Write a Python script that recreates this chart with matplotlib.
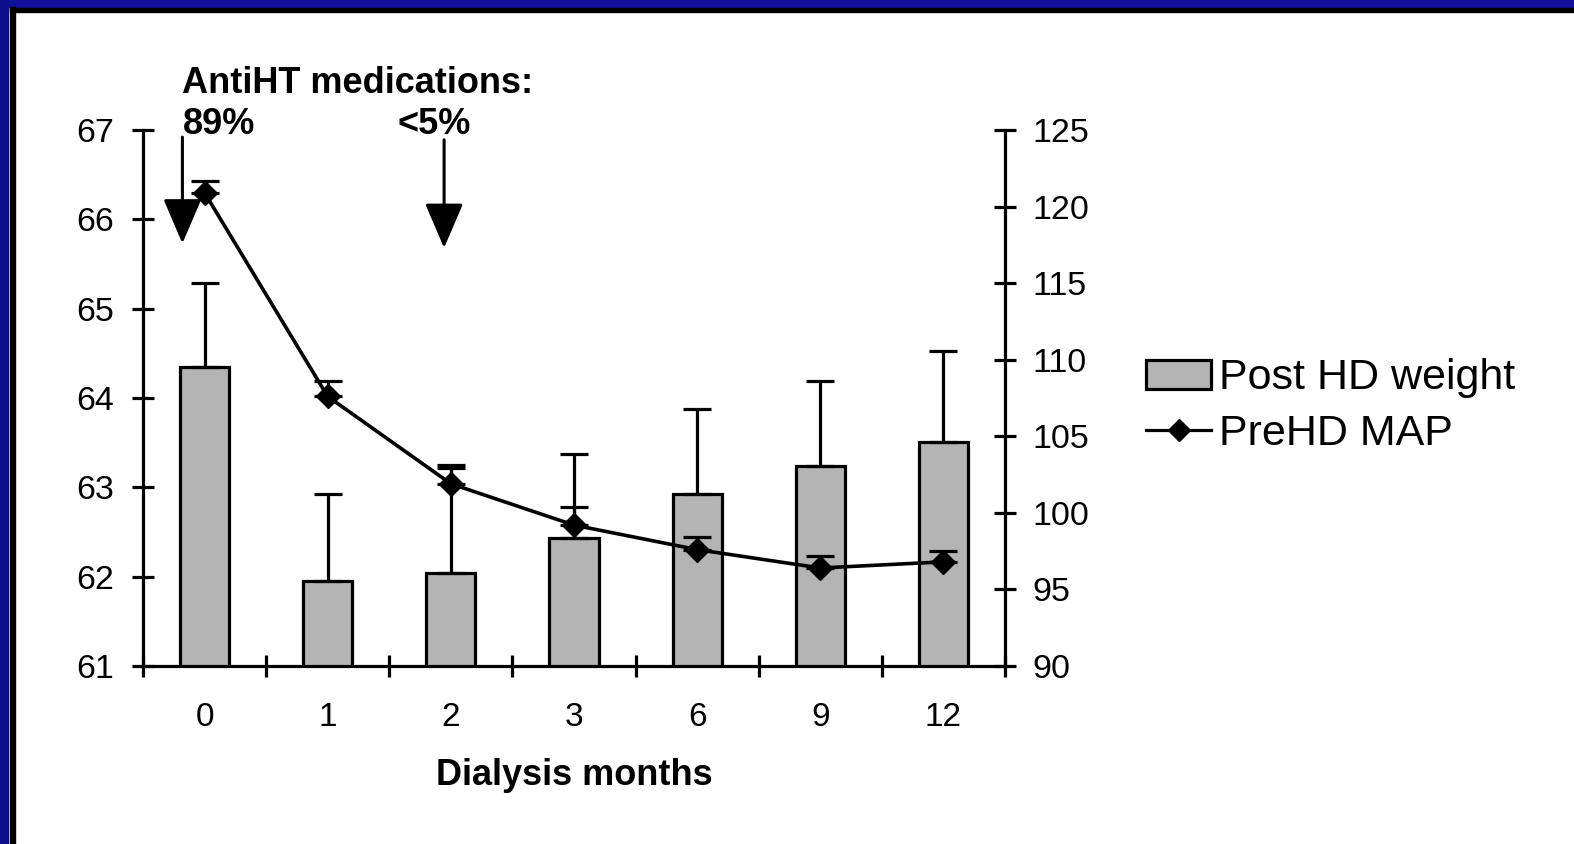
import numpy as np
import matplotlib
matplotlib.use('Agg')
import matplotlib.pyplot as plt
from matplotlib.patches import Rectangle, Patch
from matplotlib.lines import Line2D

plt.rcParams['font.family'] = ['Liberation Sans', 'DejaVu Sans']

# data
months = ['0', '1', '2', '3', '6', '9', '12']
weight = [64.35, 61.95, 62.04, 62.43, 62.93, 63.24, 63.51]
weight_err = [0.94, 0.97, 1.21, 0.94, 0.95, 0.95, 1.02]
map_vals = [120.9, 107.6, 101.9, 99.2, 97.6, 96.4, 96.8]
map_err = [0.8, 1.0, 1.0, 1.2, 0.8, 0.8, 0.7]

# arrow notes (x in category units, y on left axis)
arrow_x = [-0.18, 1.945]
arrow_top = [66.92, 66.89]
arrow_tip = [65.73, 65.68]

fig = plt.figure(figsize=(15.74, 8.44), dpi=100)
fig.patch.set_facecolor('white')

# slide border: blue band top and left, thin black line inside
W, H = 1574, 844
fig.patches.append(Rectangle((0, 1 - 7 / H), 1, 7 / H, transform=fig.transFigure,
                             color='#10109a', zorder=0))
fig.patches.append(Rectangle((0, 0), 8 / W, 1, transform=fig.transFigure,
                             color='#0c0c8c', zorder=0))
fig.patches.append(Rectangle((10 / W, 0), 5 / W, 1 - 7 / H, transform=fig.transFigure,
                             color='black', zorder=0))
fig.patches.append(Rectangle((10 / W, 1 - 12 / H), 1 - 10 / W, 4 / H, transform=fig.transFigure,
                             color='black', zorder=0))

ax = fig.add_axes([143 / W, 1 - 666 / H, 862 / W, 536 / H])
ax2 = ax.twinx()

x = np.arange(len(months))
lw = 2.3

ax.bar(x, weight, width=0.4, bottom=0, color='#b4b4b4', edgecolor='black',
       linewidth=lw, zorder=2)
ax.errorbar(x, weight, yerr=[np.zeros(len(x)), weight_err], fmt='none',
            ecolor='black', elinewidth=lw, capsize=10, capthick=lw, zorder=3)

ax2.errorbar(x, map_vals, yerr=[np.zeros(len(x)), map_err], fmt='none',
             ecolor='black', elinewidth=lw, capsize=10, capthick=lw, zorder=3)
ax2.plot(x, map_vals, color='black', lw=2.6, marker='D', markersize=12, zorder=4)

ax.set_xlim(-0.5, len(x) - 0.5)
ax.set_ylim(61, 67)
ax2.set_ylim(90, 125)
ax.set_yticks(range(61, 68))
ax2.set_yticks(range(90, 126, 5))

ax.set_xticks(x)
ax.set_xticklabels(months)
ax.set_xticks(np.arange(-0.5, len(x)), minor=True)
ax.tick_params(axis='x', which='major', length=0, pad=26, labelsize=24)
ax.tick_params(axis='x', which='minor', direction='inout', length=16, width=lw)
ax.tick_params(axis='y', direction='inout', length=16, width=lw, labelsize=24.5, pad=13)
ax2.tick_params(axis='y', direction='inout', length=16, width=lw, labelsize=24.5, pad=12)

for a in (ax, ax2):
    a.spines['top'].set_visible(False)
    for s in a.spines.values():
        s.set_linewidth(lw)
ax.spines['right'].set_visible(False)
ax2.spines['left'].set_visible(False)
ax2.spines['bottom'].set_visible(False)
ax.patch.set_visible(False)

ax.set_xlabel('Dialysis months', fontsize=26, fontweight='bold', labelpad=18)

# annotation about medication
for ax_, top, tip in zip(arrow_x, arrow_top, arrow_tip):
    ax.annotate('', xy=(ax_, tip), xytext=(ax_, top),
                arrowprops=dict(arrowstyle='-|>,head_length=1.4,head_width=0.6',
                                mutation_scale=20, lw=2.2, color='black',
                                shrinkA=0, shrinkB=0),
                annotation_clip=False, zorder=5)
ax.text(-0.18, 67.41, 'AntiHT medications:', fontsize=26, fontweight='bold',
        ha='left', va='baseline', clip_on=False)
ax.text(-0.18, 66.955, '89%', fontsize=26, fontweight='bold',
        ha='left', va='baseline', clip_on=False)
ax.text(1.57, 66.955, '<5%', fontsize=26, fontweight='bold',
        ha='left', va='baseline', clip_on=False)

handles = [Patch(facecolor='#b4b4b4', edgecolor='black', linewidth=lw),
           Line2D([], [], color='black', lw=lw, marker='D', markersize=11)]
fig.legend(handles, ['Post HD weight', 'PreHD MAP'], loc='center left',
           bbox_to_anchor=(1129 / W, 1 - 406 / H), frameon=False, fontsize=31,
           handlelength=1.5, handleheight=0.65, handletextpad=0.2,
           labelspacing=0.35, borderaxespad=0)

fig.savefig('out.png', dpi=100)
